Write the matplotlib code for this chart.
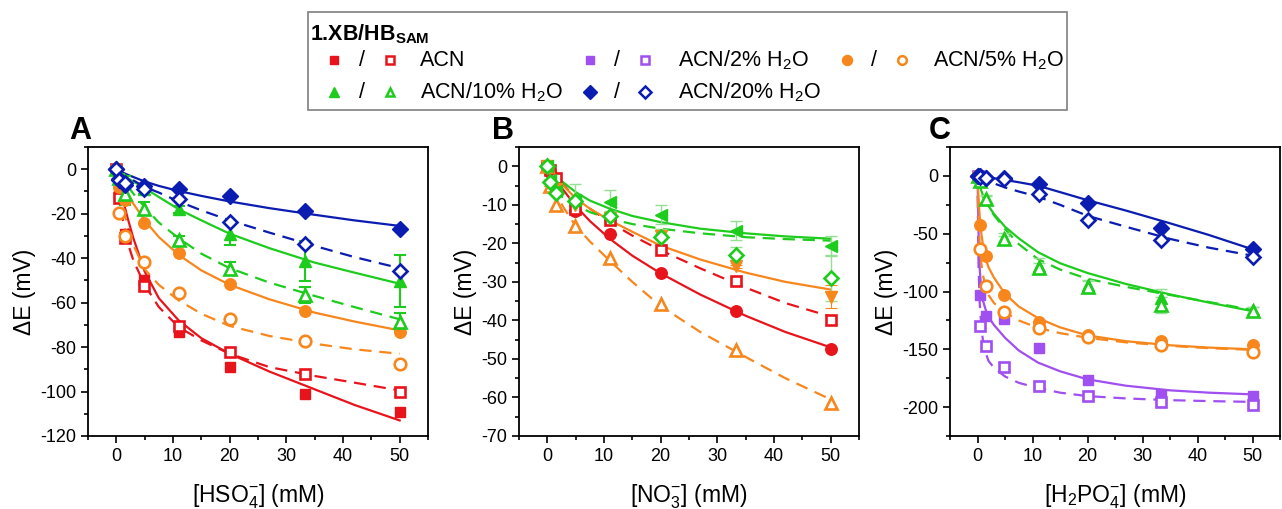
import matplotlib
matplotlib.use("Agg")
import matplotlib.pyplot as plt
from matplotlib.lines import Line2D
from matplotlib.patches import Rectangle
from matplotlib.ticker import MultipleLocator

plt.rcParams['font.family'] = ['Liberation Sans', 'DejaVu Sans']
plt.rcParams['mathtext.fontset'] = 'custom'
plt.rcParams['mathtext.rm'] = 'Liberation Sans'
plt.rcParams['mathtext.it'] = 'Liberation Sans:italic'
plt.rcParams['mathtext.bf'] = 'Liberation Sans:bold'
plt.rcParams['mathtext.default'] = 'regular'
plt.rcParams['axes.unicode_minus'] = False

# ---------------- data ----------------
x_pts = [0, 0.4, 1.5, 4.8, 11.1, 20, 33.3, 50]
gx = [0, 0.5, 1, 2, 3, 5, 7.5, 11, 15, 20, 27, 35, 42, 50]
gxc = [0, 0.1, 0.2, 0.4, 0.7, 1, 1.5, 2, 3, 5, 7.5, 11, 15, 20, 27, 35, 42, 50]

# Panel A (HSO4-)
a_acn_f = [0, -11, -29, -50, -73, -89, -101, -109]
a_acn_o = [0, -13, -31, -52.5, -70.5, -82, -92, -100]
a_5_f = [0, -8, -14, -24, -37.6, -51.6, -63.6, -73.4]
a_5_o = [0, -19.5, -30, -41.7, -55.6, -67.4, -77.4, -87.4]
a_10_f = [0, -3, -5, -9, -18, -29.3, -41.4, -50.4]
a_10_f_err = [0, 1, 2, 2, 1.5, 5, 9, 11.7]
a_10_o = [0, -4, -11, -17.7, -32, -44.7, -56.5, -68.5]
a_10_o_err = [0, 1, 5, 3, 2, 3, 3.5, 4]
a_20_f = [0, -4.5, -7, -7.5, -9, -12, -19, -27]
a_20_o = [0, -5, -6, -9, -13.5, -23.8, -33.5, -45.9]

fa_acn_s = [0, -6, -12, -22, -31, -46, -58, -68, -76, -83, -91, -99, -106, -113]
fa_acn_d = [0, -12, -21, -33, -41, -52, -62, -71, -77, -83, -89, -93, -96, -99.5]
fa_5_s = [0, -3, -6, -11, -15.5, -23, -30.5, -38.5, -45.5, -52, -58.5, -64.5, -68.5, -72.5]
fa_5_d = [0, -8, -15, -26, -34, -45, -52, -59, -65, -70.5, -75, -78.5, -81, -83]
fa_10_s = [0, -1, -2, -4, -5.5, -8.5, -12.5, -18, -23, -29, -35.5, -42, -46.5, -51.5]
fa_10_d = [0, -2, -4, -7.5, -11, -17, -24, -31, -38, -44.5, -51, -57, -62, -67.5]
fa_20_s = [0, -0.7, -1.3, -2.5, -3.5, -5.5, -7.5, -9.8, -12, -14.5, -17.5, -20.5, -23, -25.5]
fa_20_d = [0, -1, -2, -3.5, -5, -8, -10.5, -14.5, -18.5, -23, -28.5, -34.5, -39.5, -44.5]

# Panel B (NO3-)
b_acn_f = [0, -1.5, -5, -11.7, -17.6, -27.6, -37.5, -47.5]
b_acn_o = [0, -1, -3, -11, -14, -21.7, -29.9, -39.8]
b_5_f = [0, -5, -6, -10, -13.5, -18, -26, -33.8]
b_5_f_err = [0, 0, 0, 0, 0.5, 0.5, 0.5, 3]
b_5_o = [0, -5, -10, -15.6, -23.7, -35.8, -47.7, -61.4]
b_10_f = [0, -3.5, -6.5, -8.7, -9.3, -12.6, -16.7, -20.8]
b_10_f_err = [0, 0, 0, 4, 3.2, 2.5, 2.4, 2.6]
b_10_o = [0, -4, -7, -9, -13, -18.4, -23, -28.9]
b_10_o_err = [0, 0, 0, 1, 1.5, 2, 2, 6]

fb_acn_s = [0, -1.3, -2.5, -4.5, -6.5, -10.3, -14.2, -18.8, -23.2, -27.8, -33.3, -38.8, -43, -47]
fb_acn_d = [0, -1, -2, -3.5, -5, -8.5, -11, -14.5, -18, -21.8, -26.5, -31.5, -35.5, -39]
fb_5_s = [0, -1, -2, -3.7, -5.3, -8.3, -11, -14, -17, -20.6, -24.2, -27.6, -30, -32]
fb_5_d = [0, -3, -5.5, -8.5, -11, -15.5, -19.5, -24.5, -30, -36.3, -43, -49.5, -55, -60.5]
fb_10_s = [0, -0.9, -1.8, -3.2, -4.4, -6.7, -8.9, -11, -12.9, -14.5, -16.2, -17.4, -18.2, -18.8]
fb_10_d = [0, -1.7, -3.3, -5.8, -7.6, -10, -11.9, -13.6, -15, -16.2, -17.4, -18.4, -18.9, -19.3]

# Panel C (H2PO4-)
c_2_f = [0, -103, -121.4, -123.4, -148.8, -176.3, -189.3, -190.8]
c_2_o = [0, -130, -146.8, -165.6, -181.5, -190.8, -195.4, -198]
c_5_f = [0, -42.8, -69.4, -103, -126.6, -137.3, -142.5, -146.5]
c_5_o = [0, -63.6, -95.4, -117.6, -131.5, -139.6, -146.2, -152.3]
c_10_f = [0, -4, -19.7, -53.5, -78, -94.8, -106, -116.2]
c_10_f_err = [0, 0, 3, 4, 7, 5, 8, 3]
c_10_o = [0, -4, -20, -55, -80, -96, -111.8, -116.5]
c_10_o_err = [0, 0, 3, 3, 5, 5, 7, 3]
c_20_f = [0, 0, -1.4, -2, -6.6, -23.7, -44.8, -63.6]
c_20_o = [0, -1, -2, -3, -15.3, -38.2, -55.5, -70]

fc_2_s = [0, -25, -50, -80, -100, -108, -116, -122, -129, -140, -151, -161.5, -169, -176, -181.5, -185.5, -187.5, -189]
fc_2_d = [0, -45, -80, -110, -130, -143, -153, -160, -166, -173.5, -179, -183.5, -187.5, -190.5, -192.5, -194, -194.8, -195.5]
fc_5_s = [0, -10, -20, -35, -50, -60, -72, -79, -88, -102, -113, -123, -131, -138, -143, -146.5, -148.5, -150]
fc_5_d = [0, -20, -38, -60, -76, -86, -96, -103, -110, -118, -125, -131.5, -136, -140, -144, -147, -149, -150.5]
fc_10_s = [0, -2, -4, -8, -13, -17, -22, -26, -33, -44, -54, -66, -75.5, -84, -93.5, -102.5, -109.5, -117]
fc_10_d = [0, -2, -5, -9, -14, -18, -22, -26, -34, -46, -59, -72, -81, -89, -96, -103, -109, -116]
fc_20_s = [0, 0, -0.1, -0.2, -0.3, -0.5, -0.7, -1, -2, -3.5, -5.5, -8.5, -14, -21, -30, -41, -51, -63.5]
fc_20_d = [0, -0.2, -0.5, -1, -1.7, -2.5, -3.5, -4.5, -6.5, -10, -13.5, -18, -25, -34.5, -44, -54.5, -62, -69]

# ---------------- styles ----------------
RED = '#e8141c'
PURPLE = '#a04ff0'
ORANGE = '#f7871d'
GREEN = '#1ecc1e'
BLUE = '#0b1cb0'
LGREEN = '#94df94'
DASH = (0, (5.5, 3.5))

W, H = 1282, 509
fig = plt.figure(figsize=(W / 100, H / 100), dpi=100)


def fpos(px, py):
    return px / W, 1 - py / H


def make_ax(left_px, right_px):
    l, _ = fpos(left_px, 0)
    r, _ = fpos(right_px, 0)
    _, t = fpos(0, 147)
    _, b = fpos(0, 436)
    ax = fig.add_axes([l, b, r - l, t - b])
    for s in ax.spines.values():
        s.set_linewidth(1.3)
    ax.tick_params(which='both', direction='out', top=False, right=False,
                   labelsize=13, width=1.2)
    ax.tick_params(which='major', length=5)
    ax.tick_params(which='minor', length=3)
    ax.set_xlim(-5, 55)
    ax.xaxis.set_major_locator(MultipleLocator(10))
    ax.xaxis.set_minor_locator(MultipleLocator(5))
    ax.set_ylabel('ΔE (mV)', fontsize=16.5, labelpad=3)
    return ax


def fit(ax, x, y, color, dashed=False):
    ax.plot(x, y, color=color, lw=1.6, ls=DASH if dashed else '-', zorder=2)


def pts(ax, x, y, color, marker, filled, ms=8.3, err=None, ecolor=None,
        elw=1.5, cap=4.5):
    if err is not None:
        ax.errorbar(x, y, yerr=err, fmt='none', ecolor=ecolor or color,
                    elinewidth=elw, capsize=cap, capthick=elw, zorder=2.5)
    ax.plot(x, y, ls='none', marker=marker, ms=ms,
            mfc=color if filled else 'white', mec=color,
            mew=1.0 if filled else 1.9, zorder=3)


# ---------------- Panel A ----------------
axA = make_ax(88, 428)
axA.set_ylim(-120, 10)
axA.yaxis.set_major_locator(MultipleLocator(20))
axA.yaxis.set_minor_locator(MultipleLocator(10))
fit(axA, gx, fa_acn_s, RED)
fit(axA, gx, fa_acn_d, RED, True)
fit(axA, gx, fa_5_s, ORANGE)
fit(axA, gx, fa_5_d, ORANGE, True)
fit(axA, gx, fa_10_s, GREEN)
fit(axA, gx, fa_10_d, GREEN, True)
fit(axA, gx, fa_20_s, BLUE)
fit(axA, gx, fa_20_d, BLUE, True)
pts(axA, x_pts, a_acn_f, RED, 's', True, ms=7.6)
pts(axA, x_pts, a_acn_o, RED, 's', False, ms=6.5)
pts(axA, x_pts, a_5_f, ORANGE, 'o', True)
pts(axA, x_pts, a_5_o, ORANGE, 'o', False)
pts(axA, x_pts, a_10_f, GREEN, '^', True, ms=9.2, err=a_10_f_err)
pts(axA, x_pts, a_10_o, GREEN, '^', False, ms=9.2, err=a_10_o_err)
pts(axA, x_pts, a_20_f, BLUE, 'D', True, ms=8.2)
pts(axA, x_pts, a_20_o, BLUE, 'D', False, ms=7.6)
axA.set_xlabel(r'[HSO$_4^{-}$] (mM)', fontsize=16.5, labelpad=13)

# ---------------- Panel B ----------------
axB = make_ax(519, 859)
axB.set_ylim(-70, 5)
axB.yaxis.set_major_locator(MultipleLocator(10))
axB.yaxis.set_minor_locator(MultipleLocator(5))
fit(axB, gx, fb_acn_s, RED)
fit(axB, gx, fb_acn_d, RED, True)
fit(axB, gx, fb_5_s, ORANGE)
fit(axB, gx, fb_5_d, ORANGE, True)
fit(axB, gx, fb_10_s, GREEN)
fit(axB, gx, fb_10_d, GREEN, True)
pts(axB, x_pts, b_acn_f, RED, 'o', True)
pts(axB, x_pts, b_acn_o, RED, 's', False, ms=6.5)
pts(axB, x_pts, b_5_f, ORANGE, 'v', True, ms=9.2, err=b_5_f_err,
    ecolor=ORANGE, elw=0.8)
pts(axB, x_pts, b_5_o, ORANGE, '^', False, ms=9.2)
pts(axB, x_pts, b_10_f, GREEN, '<', True, ms=9.2, err=b_10_f_err,
    ecolor=LGREEN, elw=1.0)
pts(axB, x_pts, b_10_o, GREEN, 'D', False, ms=7.6, err=b_10_o_err,
    ecolor=LGREEN, elw=1.0)
axB.set_xlabel(r'[NO$_3^{-}$] (mM)', fontsize=16.5, labelpad=13)

# ---------------- Panel C ----------------
axC = make_ax(950, 1280)
axC.set_ylim(-225, 25)
axC.yaxis.set_major_locator(MultipleLocator(50))
axC.yaxis.set_minor_locator(MultipleLocator(25))
fit(axC, gxc, fc_2_s, PURPLE)
fit(axC, gxc, fc_2_d, PURPLE, True)
fit(axC, gxc, fc_5_s, ORANGE)
fit(axC, gxc, fc_5_d, ORANGE, True)
fit(axC, gxc, fc_10_s, GREEN)
fit(axC, gxc, fc_10_d, GREEN, True)
fit(axC, gxc, fc_20_s, BLUE)
fit(axC, gxc, fc_20_d, BLUE, True)
pts(axC, x_pts, c_2_f, PURPLE, 's', True, ms=7.6)
pts(axC, x_pts, c_2_o, PURPLE, 's', False, ms=6.5)
pts(axC, x_pts, c_5_f, ORANGE, 'o', True)
pts(axC, x_pts, c_5_o, ORANGE, 'o', False)
pts(axC, x_pts, c_10_f, GREEN, '^', True, ms=9.2, err=c_10_f_err,
    ecolor=LGREEN, elw=1.0)
pts(axC, x_pts, c_10_o, GREEN, '^', False, ms=9.2, err=c_10_o_err,
    ecolor=LGREEN, elw=1.0)
pts(axC, x_pts, c_20_f, BLUE, 'D', True, ms=8.2)
pts(axC, x_pts, c_20_o, BLUE, 'D', False, ms=7.6)
axC.set_xlabel(r'[H$_2$PO$_4^{-}$] (mM)', fontsize=16.5, labelpad=13)

# panel letters
for letter, px in [('A', 80), ('B', 503), ('C', 940)]:
    fx, fy = fpos(px, 131)
    fig.text(fx, fy, letter, fontsize=22, fontweight='bold',
             ha='center', va='center')

# ---------------- legend ----------------
bx0, by0 = fpos(308, 110)
bx1, by1 = fpos(1067, 12)
fig.add_artist(Rectangle((bx0, by0), bx1 - bx0, by1 - by0,
                         transform=fig.transFigure, fill=False,
                         edgecolor='#7f7f7f', lw=1.2))
tx, ty = fpos(310, 34)
fig.text(tx, ty, r'1.XB/HB$_{SAM}$', fontsize=15.5, fontweight='bold',
         ha='left', va='center')

leg_entries = [
    (334, 390, 420, 60, RED, 's', 's', 'ACN'),
    (590, 645, 678, 60, PURPLE, 's', 's', r'ACN/2% H$_2$O'),
    (847, 902, 933, 60, ORANGE, 'o', 'o', r'ACN/5% H$_2$O'),
    (334, 390, 420, 92, GREEN, '^', '^', r'ACN/10% H$_2$O'),
    (590, 645, 678, 92, BLUE, 'D', 'D', r'ACN/20% H$_2$O'),
]
for fxp, oxp, txp, yp, col, mf, mo, lab in leg_entries:
    a, b = fpos(fxp, yp)
    ms_f = 7 if mf == 's' else 8
    fig.add_artist(Line2D([a], [b], transform=fig.transFigure, ls='none',
                          marker=mf, ms=ms_f * 0.9, mfc=col, mec=col))
    a2, _ = fpos((fxp + oxp) / 2, yp)
    fig.text(a2, b, '/', fontsize=15.5, ha='center', va='center')
    a3, _ = fpos(oxp, yp)
    fig.add_artist(Line2D([a3], [b], transform=fig.transFigure, ls='none',
                          marker=mo, ms=ms_f * 0.78, mfc='white', mec=col,
                          mew=1.8))
    a4, _ = fpos(txp, yp)
    fig.text(a4, b, lab, fontsize=15.5, ha='left', va='center')

fig.savefig('out.png', dpi=100)
